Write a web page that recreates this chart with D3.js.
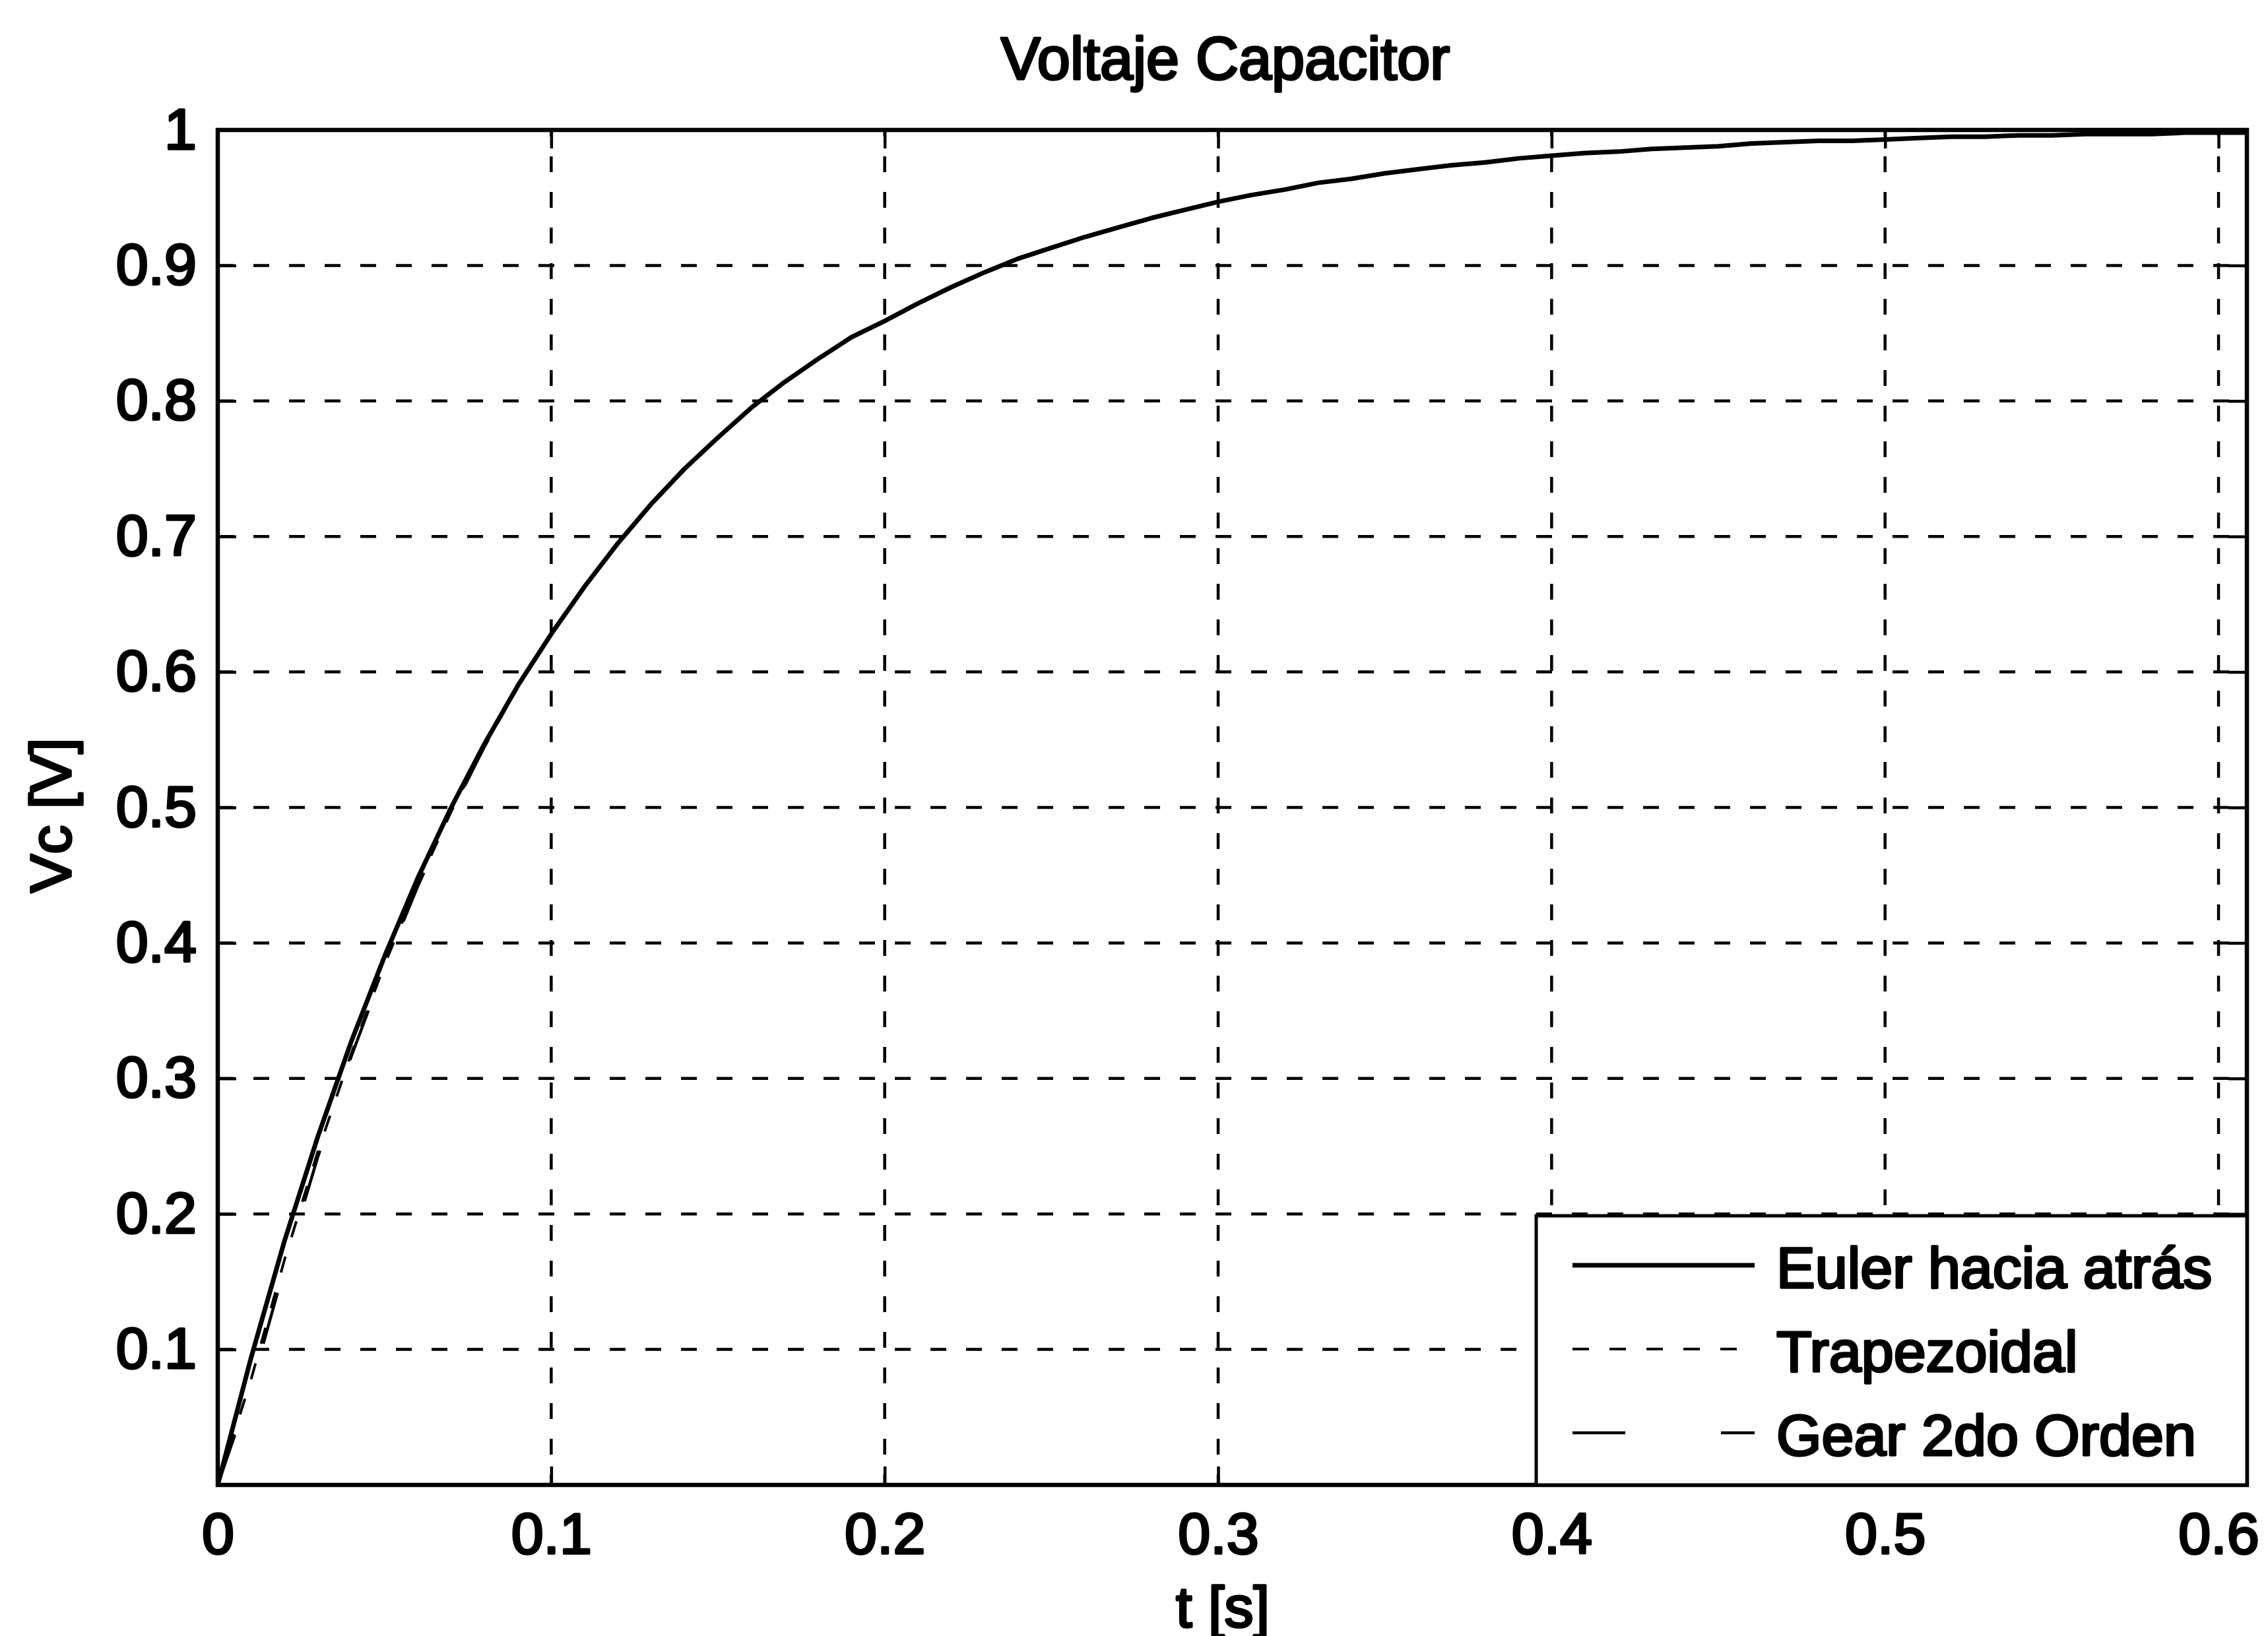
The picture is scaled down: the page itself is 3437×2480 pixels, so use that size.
<!DOCTYPE html>
<html>
<head>
<meta charset="utf-8">
<script src="https://cdn.jsdelivr.net/npm/d3@7"></script>
<style>
  body { margin: 0; background: #fff; }
  text { font-family: "Liberation Sans", Arial, Helvetica, sans-serif; fill: #000; stroke: #000; stroke-width: 3.6px; stroke-linejoin: round; }
</style>
</head>
<body>
<div id="chart"></div>
<script>
const CANVAS_WIDTH = 3437;
const CANVAS_HEIGHT = 2480;
const PLOT_LEFT = 330;
const PLOT_RIGHT = 3405;
const PLOT_TOP = 197;
const PLOT_BOTTOM = 2251;
const FONT_SIZE = 88;

// tiempo [s]
const timeS = [0, 0.01, 0.02, 0.03, 0.04, 0.05, 0.06, 0.07, 0.08, 0.09,
    0.10, 0.11, 0.12, 0.13, 0.14, 0.15, 0.16, 0.17, 0.18, 0.19,
    0.20, 0.21, 0.22, 0.23, 0.24, 0.25, 0.26, 0.27, 0.28, 0.29,
    0.30, 0.31, 0.32, 0.33, 0.34, 0.35, 0.36, 0.37, 0.38, 0.39,
    0.40, 0.41, 0.42, 0.43, 0.44, 0.45, 0.46, 0.47, 0.48, 0.49,
    0.50, 0.51, 0.52, 0.53, 0.54, 0.55, 0.56, 0.57, 0.58, 0.59,
    0.60, 0.6085];

const eulerVc = [0, 0.094, 0.180, 0.257, 0.327, 0.390, 0.448, 0.500, 0.547, 0.590,
    0.628, 0.663, 0.695, 0.724, 0.750, 0.773, 0.795, 0.814, 0.831, 0.847,
    0.859, 0.872, 0.884, 0.895, 0.905, 0.913, 0.921, 0.928, 0.935, 0.941,
    0.947, 0.952, 0.956, 0.961, 0.964, 0.968, 0.971, 0.974, 0.976, 0.979,
    0.981, 0.983, 0.984, 0.986, 0.987, 0.988, 0.990, 0.991, 0.992, 0.992,
    0.993, 0.994, 0.995, 0.995, 0.996, 0.996, 0.997, 0.997, 0.997, 0.998,
    0.998, 0.998];

const trapVc = [0, 0.078, 0.166, 0.246, 0.318, 0.384, 0.443, 0.497, 0.545, 0.589,
    0.628, 0.663, 0.695, 0.724, 0.750, 0.773, 0.795, 0.814, 0.831, 0.847,
    0.859, 0.872, 0.884, 0.895, 0.905, 0.913, 0.921, 0.928, 0.935, 0.941,
    0.947, 0.952, 0.956, 0.961, 0.964, 0.968, 0.971, 0.974, 0.976, 0.979,
    0.981, 0.983, 0.984, 0.986, 0.987, 0.988, 0.990, 0.991, 0.992, 0.992,
    0.993, 0.994, 0.995, 0.995, 0.996, 0.996, 0.997, 0.997, 0.997, 0.998,
    0.998, 0.998];

const gearVc = [0, 0.072, 0.160, 0.242, 0.316, 0.382, 0.442, 0.496, 0.545, 0.589,
    0.628, 0.663, 0.695, 0.724, 0.750, 0.773, 0.795, 0.814, 0.831, 0.847,
    0.859, 0.872, 0.884, 0.895, 0.905, 0.913, 0.921, 0.928, 0.935, 0.941,
    0.947, 0.952, 0.956, 0.961, 0.964, 0.968, 0.971, 0.974, 0.976, 0.979,
    0.981, 0.983, 0.984, 0.986, 0.987, 0.988, 0.990, 0.991, 0.992, 0.992,
    0.993, 0.994, 0.995, 0.995, 0.996, 0.996, 0.997, 0.997, 0.997, 0.998,
    0.998, 0.998];

const xTicks = [0, 0.1, 0.2, 0.3, 0.4, 0.5, 0.6];
const yTicks = [0.1, 0.2, 0.3, 0.4, 0.5, 0.6, 0.7, 0.8, 0.9, 1];
const xGrid = [0.1, 0.2, 0.3, 0.4, 0.5, 0.6];
const yGrid = [0.1, 0.2, 0.3, 0.4, 0.5, 0.6, 0.7, 0.8, 0.9];
const seriesNames = ["Euler hacia atrás", "Trapezoidal", "Gear 2do Orden"];
const seriesDash = [null, "25,31", "80,145"];
const seriesWidth = [7, 4, 4.5];

var svg = d3.select("#chart")
    .append("svg")
    .attr("width", CANVAS_WIDTH)
    .attr("height", CANVAS_HEIGHT)
    .style("background", "#fff");

var x_scale = d3.scaleLinear()
    .domain([0, 0.6085])
    .range([PLOT_LEFT, PLOT_RIGHT]);

var y_scale = d3.scaleLinear()
    .domain([0, 1])
    .range([PLOT_BOTTOM, PLOT_TOP]);

svg.append("clipPath")
    .attr("id", "plot-clip")
    .append("rect")
    .attr("x", PLOT_LEFT)
    .attr("y", PLOT_TOP - 4)
    .attr("width", PLOT_RIGHT - PLOT_LEFT)
    .attr("height", PLOT_BOTTOM - PLOT_TOP + 8);

// grid
svg.append("g").selectAll("line")
    .data(yGrid)
    .enter()
    .append("line")
    .attr("x1", PLOT_LEFT)
    .attr("x2", PLOT_RIGHT)
    .attr("y1", (d) => y_scale(d))
    .attr("y2", (d) => y_scale(d))
    .attr("stroke", "#000")
    .attr("stroke-width", 4.5)
    .attr("stroke-dasharray", "24,30");

svg.append("g").selectAll("line")
    .data(xGrid)
    .enter()
    .append("line")
    .attr("x1", (d) => x_scale(d))
    .attr("x2", (d) => x_scale(d))
    .attr("y1", PLOT_TOP)
    .attr("y2", PLOT_BOTTOM)
    .attr("stroke", "#000")
    .attr("stroke-width", 4.5)
    .attr("stroke-dasharray", "24,30")
    .attr("stroke-dashoffset", 14);

// curves
var series = [eulerVc, trapVc, gearVc];
var line = d3.line()
    .x((d) => x_scale(d[0]))
    .y((d) => y_scale(d[1]));

svg.append("g")
    .attr("clip-path", "url(#plot-clip)")
    .selectAll("path")
    .data(series)
    .enter()
    .append("path")
    .attr("d", (vals) => line(timeS.map((t, i) => [t, vals[i]])))
    .attr("fill", "none")
    .attr("stroke", "#000")
    .attr("stroke-width", (d, i) => seriesWidth[i])
    .attr("stroke-dasharray", (d, i) => seriesDash[i])
    .attr("stroke-linejoin", "round");

// axes with inward ticks
var xAxis = d3.axisBottom(x_scale)
    .tickValues(xTicks)
    .tickFormat((d) => d === 0 ? "0" : d3.format(".1f")(d))
    .tickSizeInner(-28)
    .tickSizeOuter(0)
    .tickPadding(42);

var yAxis = d3.axisLeft(y_scale)
    .tickValues(yTicks)
    .tickFormat((d) => d === 1 ? "1" : d3.format(".1f")(d))
    .tickSizeInner(-28)
    .tickSizeOuter(0)
    .tickPadding(32);

var xAxisTop = d3.axisTop(x_scale)
    .tickValues(xTicks)
    .tickFormat("")
    .tickSizeInner(-28)
    .tickSizeOuter(0);

var yAxisRight = d3.axisRight(y_scale)
    .tickValues(yTicks)
    .tickFormat("")
    .tickSizeInner(-28)
    .tickSizeOuter(0);

function styleAxis(g) {
    g.select(".domain").remove();
    g.selectAll(".tick line").attr("stroke", "#000").attr("stroke-width", 4.5);
    g.selectAll(".tick text")
        .attr("fill", "#000")
        .style("font-size", FONT_SIZE + "px");
}

svg.append("g")
    .attr("transform", "translate(0," + PLOT_BOTTOM + ")")
    .call(xAxis)
    .call(styleAxis);

svg.append("g")
    .attr("transform", "translate(" + PLOT_LEFT + ",0)")
    .call(yAxis)
    .call(styleAxis);

svg.append("g")
    .attr("transform", "translate(0," + PLOT_TOP + ")")
    .call(xAxisTop)
    .call(styleAxis);

svg.append("g")
    .attr("transform", "translate(" + PLOT_RIGHT + ",0)")
    .call(yAxisRight)
    .call(styleAxis);

// box
svg.append("rect")
    .attr("x", PLOT_LEFT)
    .attr("y", PLOT_TOP)
    .attr("width", PLOT_RIGHT - PLOT_LEFT)
    .attr("height", PLOT_BOTTOM - PLOT_TOP)
    .attr("fill", "none")
    .attr("stroke", "#000")
    .attr("stroke-width", 6.5);

// title and labels
svg.append("text")
    .attr("x", 1857)
    .attr("y", 120)
    .attr("text-anchor", "middle")
    .style("font-size", "90px")
    .text("Voltaje Capacitor");

svg.append("text")
    .attr("x", 1853)
    .attr("y", 2466)
    .attr("text-anchor", "middle")
    .style("font-size", FONT_SIZE + "px")
    .text("t [s]");

svg.append("text")
    .attr("text-anchor", "middle")
    .attr("transform", "translate(107,1236) rotate(-90)")
    .style("font-size", FONT_SIZE + "px")
    .text("Vc [V]");

// legend
var legend = svg.append("g");

legend.append("rect")
    .attr("x", 2328)
    .attr("y", 1843)
    .attr("width", PLOT_RIGHT - 2328)
    .attr("height", PLOT_BOTTOM - 1843)
    .attr("fill", "#fff")
    .attr("stroke", "#000")
    .attr("stroke-width", 5);

var rows = legend.selectAll("g.row")
    .data(seriesNames)
    .enter()
    .append("g")
    .attr("class", "row")
    .attr("transform", (d, i) => "translate(0," + (1952 + i * 127) + ")");

rows.append("line")
    .attr("x1", 2383)
    .attr("x2", 2659)
    .attr("y1", -34)
    .attr("y2", -34)
    .attr("stroke", "#000")
    .attr("stroke-width", (d, i) => seriesWidth[i])
    .attr("stroke-dasharray", (d, i) => seriesDash[i]);

rows.append("text")
    .attr("x", 2692)
    .attr("y", 0)
    .style("font-size", FONT_SIZE + "px")
    .text((d) => d);
</script>
</body>
</html>
